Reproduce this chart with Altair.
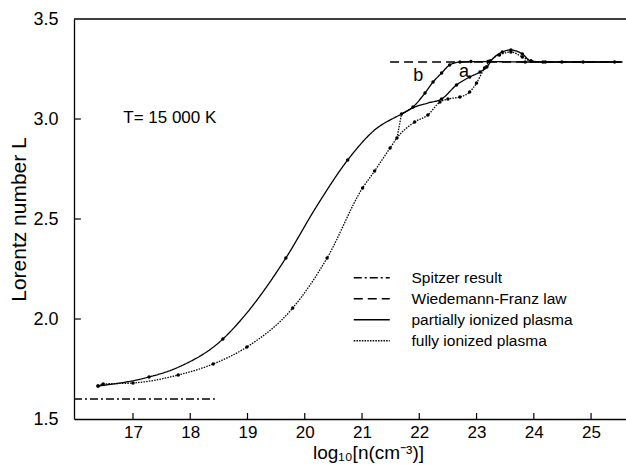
import altair as alt
import pandas as pd

FONT = "Liberation Sans"
X0, X1 = 15.97, 25.61

# ---------------- data ----------------
spitzer_x = [15.97, 18.43]
spitzer_L = [1.60, 1.60]

wf_x = [21.49, 25.55]
wf_L = [3.285, 3.285]

# partially ionized plasma (main solid curve, continuing as branch "a")
part_x = [16.39, 17.28, 17.80, 18.57, 18.90, 19.67, 20.20, 20.75, 21.20, 21.69, 21.92, 22.15,
          22.39, 22.65, 22.88, 23.06, 23.18, 23.28, 23.45, 23.60, 23.80, 23.95, 24.20, 25.50]
part_L = [1.665, 1.71, 1.76, 1.90, 2.00, 2.305, 2.56, 2.795, 2.94, 3.025, 3.06, 3.08,
          3.10, 3.17, 3.21, 3.235, 3.26, 3.30, 3.335, 3.345, 3.325, 3.29, 3.285, 3.285]
part_m = [1, 1, 0, 1, 0, 1, 0, 1, 0, 1, 0, 0,
          1, 1, 1, 1, 1, 0, 1, 1, 1, 1, 0, 0]

# branch "b"
b_x = [21.69, 21.89, 22.10, 22.24, 22.39, 22.53, 22.71, 22.90, 23.20, 23.50, 23.85,
       24.16, 24.49, 24.86, 25.41, 25.53]
b_L = [3.025, 3.06, 3.13, 3.185, 3.23, 3.27, 3.285, 3.287, 3.287, 3.286, 3.285,
       3.285, 3.285, 3.285, 3.285, 3.285]
b_m = [0, 1, 1, 1, 1, 1, 1, 1, 1, 0, 1, 1, 1, 1, 1, 0]

# fully ionized plasma
full_x = [16.39, 16.48, 17.00, 17.79, 18.40, 18.99, 19.79, 20.39, 21.01, 21.22, 21.49,
          21.61, 21.92, 22.15, 22.36, 22.50, 22.71, 22.88, 23.00, 23.14, 23.23, 23.40,
          23.60, 23.80, 23.95, 24.20]
full_L = [1.665, 1.675, 1.68, 1.72, 1.775, 1.86, 2.055, 2.305, 2.655, 2.74, 2.855,
          2.905, 2.985, 3.02, 3.085, 3.10, 3.11, 3.135, 3.18, 3.255, 3.29, 3.32,
          3.335, 3.31, 3.29, 3.285]

# short connecting segment of the fully ionized curve
kink_x = [21.61, 21.69]
kink_L = [2.905, 3.025]

x_ticks = [17, 18, 19, 20, 21, 22, 23, 24, 25]
y_ticks = [1.5, 2.0, 2.5, 3.0, 3.5]
y_inner_ticks = [2.0, 2.5, 3.0]

series_names = ["Spitzer result", "Wiedemann-Franz law",
                "partially ionized plasma", "fully ionized plasma"]
dashes = [[8, 3, 2, 3], [9, 5], [1, 0], [1.5, 1.2]]

labels_txt = ["T= 15 000 K", "a", "b"]
labels_x = [16.83, 22.78, 21.98]
labels_L = [3.005, 3.235, 3.215]
labels_align = ["left", "center", "center"]

# ---------------- tables ----------------
rows = []
def add(name, curve, xs, Ls, ms=None):
    for i, (x, L) in enumerate(zip(xs, Ls)):
        rows.append({"series": name, "curve": curve, "x": x, "L": L,
                     "order": i, "marker": (ms[i] if ms is not None else 0)})

add("Spitzer result", "spitzer", spitzer_x, spitzer_L)
add("Wiedemann-Franz law", "wf", wf_x, wf_L)
add("partially ionized plasma", "part", part_x, part_L, part_m)
add("partially ionized plasma", "b", b_x, b_L, b_m)
add("fully ionized plasma", "full", full_x, full_L, [1] * len(full_x))
add("fully ionized plasma", "kink", kink_x, kink_L)
df = pd.DataFrame(rows)

xs = alt.Scale(domain=[X0, X1], nice=False, zero=False)
ys = alt.Scale(domain=[1.5, 3.5], nice=False, zero=False)

xaxis = alt.Axis(values=x_ticks, format="d", title="log₁₀[n(cm⁻³)]", ticks=False,
                 labelFont=FONT, labelFontSize=17, titleFont=FONT, titleFontSize=19,
                 titleFontWeight="normal", labelPadding=5, titlePadding=3,
                 titleX=294, titleAnchor="start", titleAlign="center",
                 domainColor="black", domainWidth=1.3, grid=False, labelColor="black",
                 titleColor="black")
yaxis = alt.Axis(values=y_ticks, format=".1f", title="Lorentz number L", ticks=False,
                 labelFont=FONT, labelFontSize=18, titleFont=FONT, titleFontSize=21,
                 titleFontWeight="normal", labelPadding=16, titlePadding=3,
                 domainColor="black", domainWidth=1.3, grid=False, labelColor="black",
                 titleColor="black")

lines = alt.Chart(df).mark_line(interpolate="monotone", color="black", strokeWidth=1.3).encode(
    x=alt.X("x:Q", scale=xs, axis=xaxis),
    y=alt.Y("L:Q", scale=ys, axis=yaxis),
    detail="curve:N",
    order="order:Q",
    strokeDash=alt.StrokeDash(
        "series:N",
        scale=alt.Scale(domain=series_names, range=dashes),
        legend=alt.Legend(title=None, orient="none", legendX=290, legendY=251,
                          symbolType="M-3,0H3", symbolSize=144, labelOffset=32,
                          labelFont=FONT, labelFontSize=15.5, labelColor="black",
                          labelLimit=400, rowPadding=4, symbolStrokeColor="black",
                          symbolStrokeWidth=1.3, padding=0),
    ),
)

points = alt.Chart(df).transform_filter(alt.datum.marker == 1).mark_circle(
    color="black", size=12, opacity=1).encode(
    x=alt.X("x:Q", scale=xs), y=alt.Y("L:Q", scale=ys))

top_rule = alt.Chart(pd.DataFrame({"L": [3.5]})).mark_rule(
    color="black", strokeWidth=1.3).encode(y=alt.Y("L:Q", scale=ys))

xt = pd.DataFrame({"x": x_ticks, "y0": [1.5] * len(x_ticks), "y1": [1.53] * len(x_ticks)})
xtick_marks = alt.Chart(xt).mark_rule(color="black", strokeWidth=1.2).encode(
    x=alt.X("x:Q", scale=xs), y=alt.Y("y0:Q", scale=ys), y2="y1:Q")

yt = pd.DataFrame({"L": y_inner_ticks, "x0": [X0] * len(y_inner_ticks),
                   "x1": [X0 + 0.12] * len(y_inner_ticks)})
ytick_marks = alt.Chart(yt).mark_rule(color="black", strokeWidth=1.2).encode(
    y=alt.Y("L:Q", scale=ys), x=alt.X("x0:Q", scale=xs), x2="x1:Q")

lab = pd.DataFrame({"t": labels_txt, "x": labels_x, "L": labels_L, "a": labels_align})
texts_left = alt.Chart(lab[lab.a == "left"]).mark_text(
    font=FONT, fontSize=17, align="left", baseline="middle", color="black").encode(
    x=alt.X("x:Q", scale=xs), y=alt.Y("L:Q", scale=ys), text="t:N")
texts_c = alt.Chart(lab[lab.a == "center"]).mark_text(
    font=FONT, fontSize=18, align="center", baseline="middle", color="black").encode(
    x=alt.X("x:Q", scale=xs), y=alt.Y("L:Q", scale=ys), text="t:N")

chart = alt.layer(lines, points, top_rule, xtick_marks, ytick_marks, texts_left, texts_c).properties(
    width=552, height=400,
    autosize=alt.AutoSizeParams(type="none"),
    padding={"left": 74, "top": 19, "right": 0, "bottom": 46},
    background="white",
).configure_view(strokeWidth=0)

chart.save("out.html", embed_options={"renderer": "svg", "actions": False})
